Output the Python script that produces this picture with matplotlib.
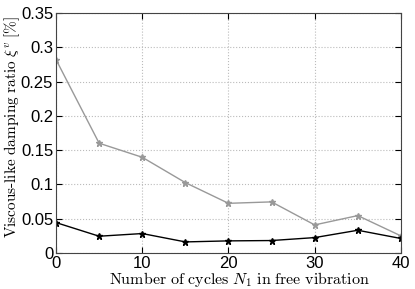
import numpy as np
import matplotlib.pyplot as plt

plt.rcParams['mathtext.fontset'] = 'cm'
plt.rcParams['font.family'] = ['Liberation Sans', 'DejaVu Sans']

cycles = [0, 5, 10, 15, 20, 25, 30, 35, 40]
xi_gray = [0.282, 0.160, 0.1395, 0.1025, 0.0723, 0.0744, 0.0408, 0.0544, 0.0248]
xi_black = [0.0442, 0.0243, 0.0282, 0.016, 0.0175, 0.018, 0.0223, 0.033, 0.021]

fig = plt.figure(figsize=(4.15, 2.89), dpi=100)
ax = fig.add_axes([0.135, 0.125, 0.831, 0.83])

ax.plot(cycles, xi_gray, color='#999999', lw=1, marker='*', ms=5)
ax.plot(cycles, xi_black, color='black', lw=1, marker='*', ms=5)

ax.set_xlim(0, 40)
ax.set_ylim(0, 0.35)
ax.set_xticks([0, 10, 20, 30, 40])
ax.set_yticks([0, 0.05, 0.1, 0.15, 0.2, 0.25, 0.3, 0.35])
ax.set_yticklabels(['0', '0.05', '0.1', '0.15', '0.2', '0.25', '0.3', '0.35'])
ax.grid(True, linestyle=':', color='#bbbbbb', lw=0.8)
ax.tick_params(direction='in', top=True, right=True, labelsize=12, length=4, pad=2)
for s in ax.spines.values():
    s.set_color('#444444')

ax.set_xlabel(r'$\mathrm{Number\ of\ cycles}\ N_1\ \mathrm{in\ free\ vibration}$', fontsize=11.5)
ax.set_ylabel(r'$\mathrm{Viscous\text{-}like\ damping\ ratio}\ \xi^v\ [\%]$', fontsize=11)
ax.xaxis.set_label_coords(0.533, -0.072, transform=ax.transAxes)
ax.yaxis.set_label_coords(-0.1, 0.527, transform=ax.transAxes)
ax.xaxis.label.set_va('top')

fig.savefig('out.png', dpi=100)
